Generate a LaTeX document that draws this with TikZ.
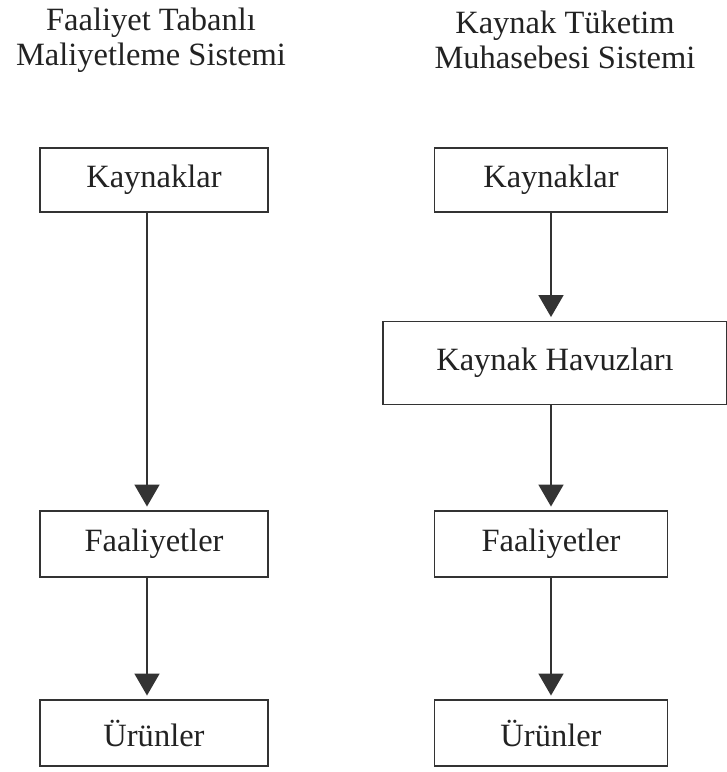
\documentclass[tikz,border=0pt]{standalone}
\usepackage{fontspec}
\setmainfont{Liberation Serif}
\usepackage{tikz}
\usetikzlibrary{arrows.meta,positioning}
\definecolor{boxline}{HTML}{333333}
\definecolor{textgray}{HTML}{222222}

\begin{document}
\begin{tikzpicture}[x=0.02cm,y=-0.02cm,>={Triangle[length=0.44cm,width=0.5cm]},
  box/.style={draw=boxline,line width=1.1pt,fill=white,inner sep=0pt,text=textgray,font=\fontsize{18.5}{20}\selectfont},
  title/.style={align=center,text=textgray,font=\fontsize{18.5}{20}\selectfont},
  flow/.style={->,boxline,line width=1pt,shorten >=2pt}]
  \useasboundingbox (0,0) rectangle (727,772);
  % Faaliyet Tabanli Maliyetleme
  \node[title] (ltitle) at (151,40) {Faaliyet Tabanlı\\Maliyetleme Sistemi};
  \node[box,minimum width=4.56cm,minimum height=1.28cm] (lkay) at (154,180) {Kaynaklar};
  \node[box,minimum width=4.56cm,minimum height=1.32cm] (lfaal) at (154,544) {Faaliyetler};
  \node[box,minimum width=4.56cm,minimum height=1.32cm] (lurun) at (154,733) {Ürünler};
  \draw[flow] ([xshift=-0.14cm]lkay.south) -- ([xshift=-0.14cm]lfaal.north);
  \draw[flow] ([xshift=-0.14cm]lfaal.south) -- ([xshift=-0.14cm]lurun.north);
  % Kaynak Tuketim Muhasebesi
  \node[title] (rtitle) at (565,40) {Kaynak Tüketim\\Muhasebesi Sistemi};
  \node[box,minimum width=4.66cm,minimum height=1.28cm] (rkay) at (551,180) {Kaynaklar};
  \node[box,minimum width=6.88cm,minimum height=1.66cm] (rhavuz) at (555,363) {Kaynak Havuzları};
  \node[box,minimum width=4.66cm,minimum height=1.32cm] (rfaal) at (551,544) {Faaliyetler};
  \node[box,minimum width=4.66cm,minimum height=1.32cm] (rurun) at (551,733) {Ürünler};
  \draw[flow] (rkay) -- (rkay |- rhavuz.north);
  \draw[flow] (rkay |- rhavuz.south) -- (rfaal);
  \draw[flow] (rfaal) -- (rurun);
\end{tikzpicture}
\end{document}
